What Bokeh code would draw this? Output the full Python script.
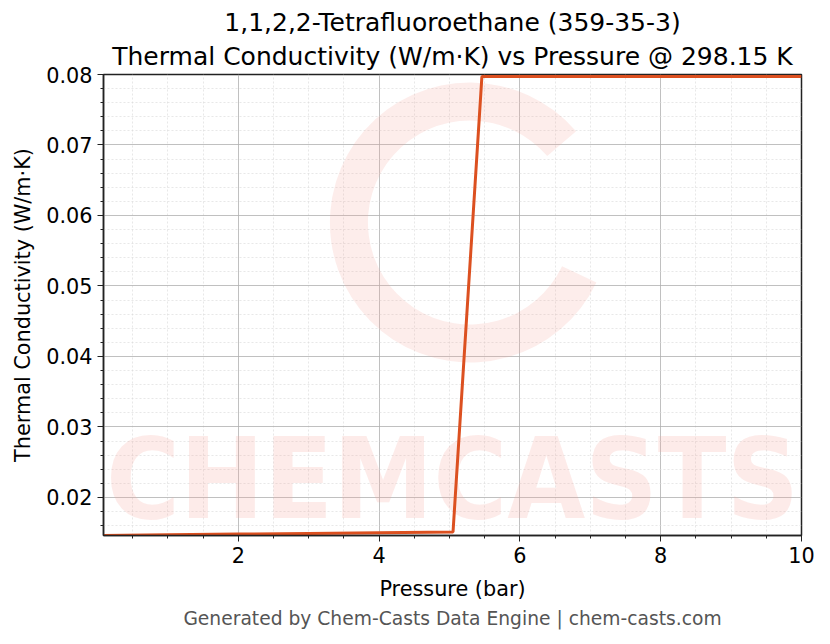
from bokeh.plotting import figure
from bokeh.models import FixedTicker, Range1d, Title, CustomJSTickFormatter
from bokeh.core.properties import value
from bokeh.embed import file_html
from bokeh.resources import INLINE

# Data
pressure_bar = [0.085, 1.0, 2.0, 3.0, 4.0, 5.05, 5.46, 6.0, 7.0, 8.0, 9.0, 10.0]
thermal_cond = [0.0146, 0.0147, 0.0148, 0.0149, 0.0150, 0.0151, 0.0797, 0.0797, 0.0797, 0.0797, 0.0797, 0.0797]

x_ticks = [2, 4, 6, 8, 10]
x_minor = [0.5, 1, 1.5, 2.5, 3, 3.5, 4.5, 5, 5.5, 6.5, 7, 7.5, 8.5, 9, 9.5]
y_ticks = [0.02, 0.03, 0.04, 0.05, 0.06, 0.07, 0.08]
y_minor = [0.016, 0.018, 0.022, 0.024, 0.026, 0.028, 0.032, 0.034, 0.036, 0.038,
           0.042, 0.044, 0.046, 0.048, 0.052, 0.054, 0.056, 0.058, 0.062, 0.064,
           0.066, 0.068, 0.072, 0.074, 0.076, 0.078]

title_line1 = "1,1,2,2-Tetrafluoroethane (359-35-3)"
title_line2 = "Thermal Conductivity (W/m\u00b7K) vs Pressure @ 298.15 K"
footer = "Generated by Chem-Casts Data Engine | chem-casts.com"
watermark = "CHEMCASTS"
FONT = "DejaVu Sans"

p = figure(width=830, height=644, output_backend="svg", toolbar_location=None,
           x_range=Range1d(0.085, 10.0), y_range=Range1d(0.0146, 0.08),
           min_border_left=103, min_border_right=29, min_border_top=74, min_border_bottom=109)

p.title.visible = False
p.add_layout(Title(text=title_line2, align="center", text_font=FONT, text_font_size="25px",
                   text_font_style="normal", text_color="#000000", standoff=7), "above")
p.add_layout(Title(text=title_line1, align="center", text_font=FONT, text_font_size="25px",
                   text_font_style="normal", text_color="#000000", standoff=0), "above")

# watermark
p.annular_wedge(x=[5.29], y=[0.059], inner_radius=102, outer_radius=140, inner_radius_units="screen",
                outer_radius_units="screen", start_angle=0.71, end_angle=5.84,
                color="#f4a59a", alpha=0.2, line_alpha=0)
p.text(x=[5.043], y=[0.0226], text=[watermark], text_align="center", text_baseline="middle",
       text_font=value("DejaVu Sans Condensed"), text_font_size="112px", text_font_style="bold",
       text_color="#f4a59a", text_alpha=0.22)

p.line(pressure_bar, thermal_cond, line_color="#dc5020", line_width=3)

p.xaxis.ticker = FixedTicker(ticks=x_ticks, minor_ticks=x_minor)
p.yaxis.ticker = FixedTicker(ticks=y_ticks, minor_ticks=y_minor)
p.yaxis.formatter = CustomJSTickFormatter(code="return tick.toFixed(2);")
p.xaxis.formatter = CustomJSTickFormatter(code="return tick.toFixed(0);")

for ax in (p.xaxis[0], p.yaxis[0]):
    ax.axis_line_color = "#222222"
    ax.axis_line_width = 1.5
    ax.major_tick_line_color = "#222222"
    ax.minor_tick_line_color = "#222222"
    ax.major_tick_out = 6
    ax.major_tick_in = 0
    ax.minor_tick_out = 3
    ax.minor_tick_in = 0
    ax.major_label_standoff = 5
    ax.major_label_text_font = FONT
    ax.major_label_text_font_size = "20.8px"
    ax.major_label_text_color = "#000000"
    ax.axis_label_text_font = FONT
    ax.axis_label_text_font_size = "20.8px"
    ax.axis_label_text_font_style = "normal"
    ax.axis_label_text_color = "#000000"

p.xaxis.axis_label = "Pressure (bar)"
p.yaxis.axis_label = "Thermal Conductivity (W/m\u00b7K)"
p.xaxis.axis_label_standoff = 11
p.yaxis.axis_label_standoff = 8

p.outline_line_color = "#222222"
p.outline_line_width = 1.5

p.xgrid.grid_line_color = "#b0b0b0"
p.ygrid.grid_line_color = "#b0b0b0"
p.xgrid.grid_line_width = 0.8
p.ygrid.grid_line_width = 0.8
p.xgrid.minor_grid_line_color = "#d8d8d8"
p.ygrid.minor_grid_line_color = "#d8d8d8"
p.xgrid.minor_grid_line_dash = "2 2"
p.ygrid.minor_grid_line_dash = "2 2"
p.xgrid.minor_grid_line_width = 0.6
p.ygrid.minor_grid_line_width = 0.6

p.add_layout(Title(text=footer, align="center",
                   text_font=FONT, text_font_size="18.7px", text_font_style="normal",
                   text_color="#555555", standoff=5), "below")

open("out.html", "w").write(file_html(p, INLINE))
